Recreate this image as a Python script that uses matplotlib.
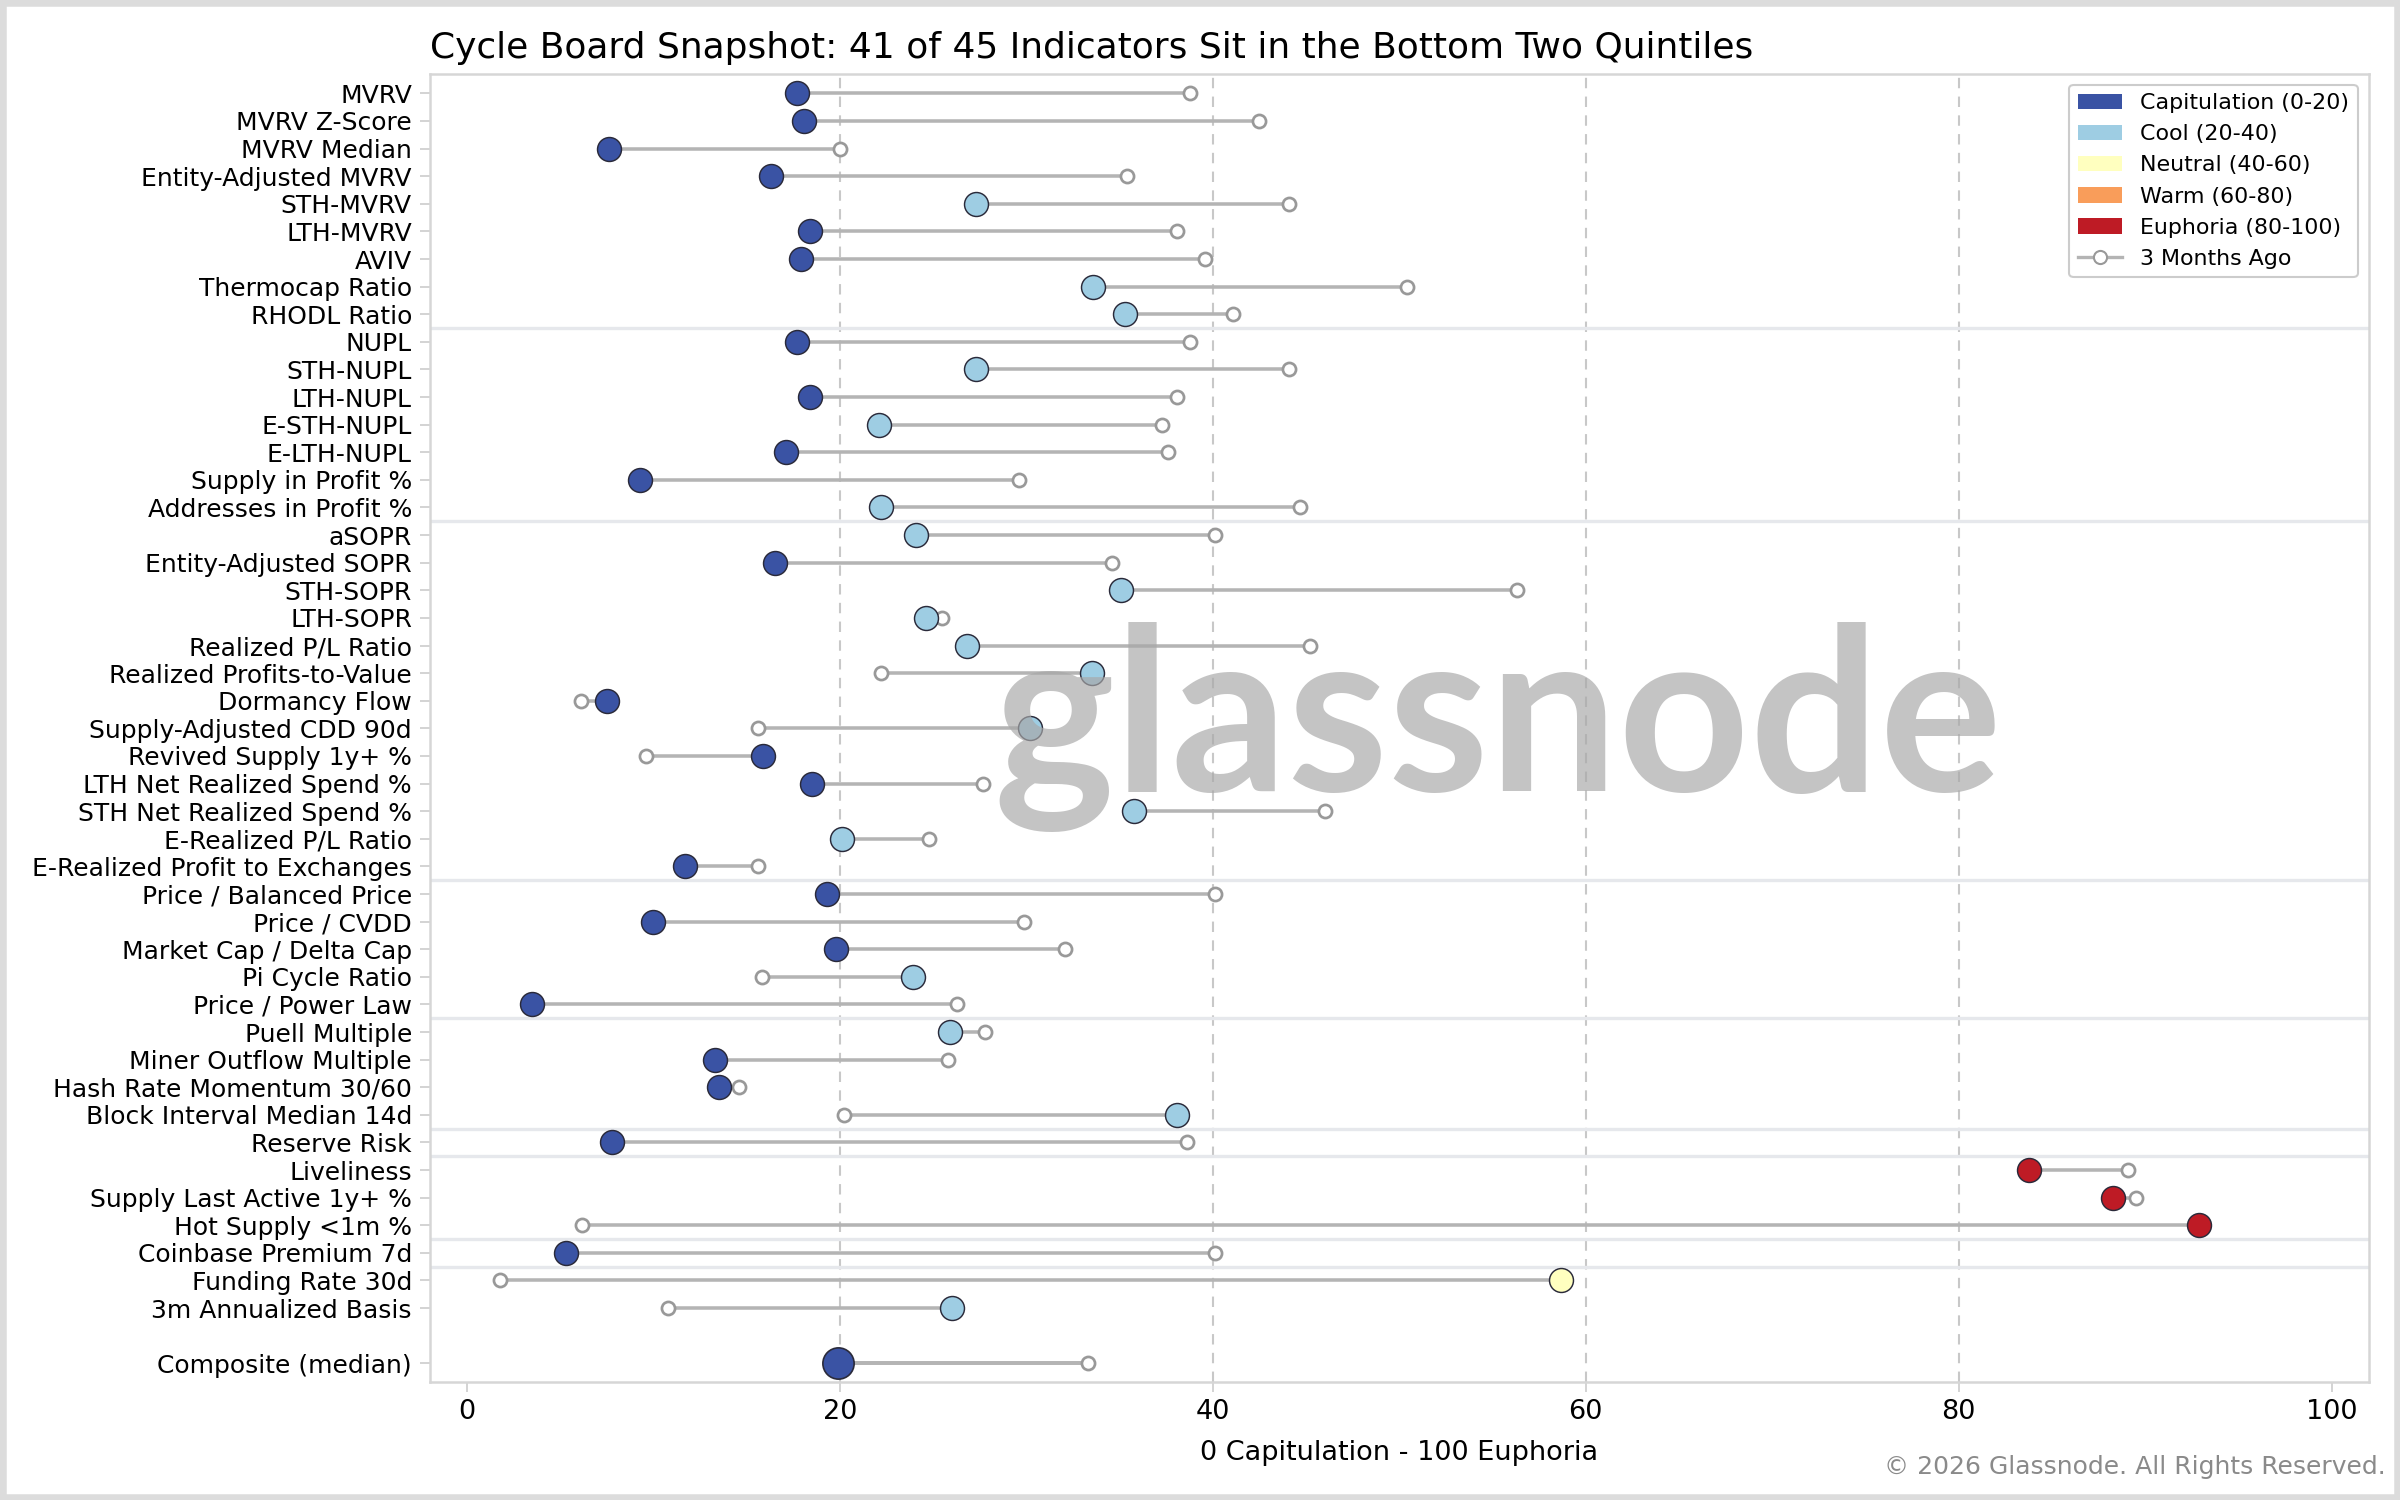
import matplotlib
matplotlib.use("Agg")
import matplotlib.pyplot as plt
from matplotlib.patches import Patch, Rectangle
from matplotlib.lines import Line2D

indicators = [
    "MVRV", "MVRV Z-Score", "MVRV Median", "Entity-Adjusted MVRV", "STH-MVRV",
    "LTH-MVRV", "AVIV", "Thermocap Ratio", "RHODL Ratio",
    "NUPL", "STH-NUPL", "LTH-NUPL", "E-STH-NUPL", "E-LTH-NUPL",
    "Supply in Profit %", "Addresses in Profit %",
    "aSOPR", "Entity-Adjusted SOPR", "STH-SOPR", "LTH-SOPR", "Realized P/L Ratio",
    "Realized Profits-to-Value", "Dormancy Flow", "Supply-Adjusted CDD 90d",
    "Revived Supply 1y+ %", "LTH Net Realized Spend %", "STH Net Realized Spend %",
    "E-Realized P/L Ratio", "E-Realized Profit to Exchanges",
    "Price / Balanced Price", "Price / CVDD", "Market Cap / Delta Cap",
    "Pi Cycle Ratio", "Price / Power Law",
    "Puell Multiple", "Miner Outflow Multiple", "Hash Rate Momentum 30/60",
    "Block Interval Median 14d",
    "Reserve Risk",
    "Liveliness", "Supply Last Active 1y+ %", "Hot Supply <1m %",
    "Coinbase Premium 7d",
    "Funding Rate 30d", "3m Annualized Basis",
]
current = [
    17.7, 18.1, 7.6, 16.3, 27.3, 18.4, 17.9, 33.6, 35.3,
    17.7, 27.3, 18.4, 22.1, 17.1, 9.3, 22.2,
    24.1, 16.5, 35.1, 24.6, 26.8, 33.5, 7.5, 30.2, 15.9, 18.5, 35.8, 20.1, 11.7,
    19.3, 10.0, 19.8, 23.9, 3.5,
    25.9, 13.3, 13.5, 38.1,
    7.8,
    83.8, 88.3, 92.9,
    5.3,
    58.7, 26.0,
]
three_months_ago = [
    38.8, 42.5, 20.0, 35.4, 44.1, 38.1, 39.6, 50.4, 41.1,
    38.8, 44.1, 38.1, 37.3, 37.6, 29.6, 44.7,
    40.1, 34.6, 56.3, 25.5, 45.2, 22.2, 6.1, 15.6, 9.6, 27.7, 46.0, 24.8, 15.6,
    40.1, 29.9, 32.1, 15.8, 26.3,
    27.8, 25.8, 14.6, 20.2,
    38.6,
    89.1, 89.5, 6.2,
    40.1,
    1.8, 10.8,
]
composite_label = "Composite (median)"
composite_now = 19.9
composite_prev = 33.3
# index after which a group separator is drawn
group_ends = [8, 15, 28, 33, 37, 38, 41, 42]

zone_labels = ["Capitulation (0-20)", "Cool (20-40)", "Neutral (40-60)",
               "Warm (60-80)", "Euphoria (80-100)"]
zone_colors = ["#3a53a4", "#9ecde3", "#ffffbf", "#f99d5a", "#be1b25"]


def zone_color(v):
    idx = min(int(v // 20), 4)
    return zone_colors[idx]


fig = plt.figure(figsize=(16, 10), dpi=150)
ax = fig.add_axes([0.179, 0.079, 0.808, 0.872])

ys = list(range(len(indicators)))
comp_y = len(indicators) + 1

for xv in [20, 40, 60, 80]:
    ax.axvline(xv, color="#c8c8c8", lw=1.0, ls=(0, (5, 4)), zorder=0)

for g in group_ends:
    ax.axhline(g + 0.5, color="#e6e8ec", lw=1.6, zorder=0.5)

for y, c, p in zip(ys, current, three_months_ago):
    ax.plot([p, c], [y, y], color="#b4b4b4", lw=1.7, zorder=1)
    ax.plot(p, y, "o", ms=6.3, mfc="white", mec="#999999", mew=1.3, zorder=2)
    ax.plot(c, y, "o", ms=11.5, mfc=zone_color(c), mec="#2a2a3a", mew=0.7, zorder=3)

ax.plot([composite_prev, composite_now], [comp_y, comp_y], color="#b4b4b4", lw=1.9, zorder=1)
ax.plot(composite_prev, comp_y, "o", ms=6.3, mfc="white", mec="#999999", mew=1.3, zorder=2)
ax.plot(composite_now, comp_y, "o", ms=15, mfc=zone_color(composite_now), mec="#2a2a3a",
        mew=0.8, zorder=3)

ax.set_yticks(ys + [comp_y])
ax.set_yticklabels(indicators + [composite_label], fontsize=12)
ax.set_ylim(comp_y + 0.66, -0.72)
ax.set_xlim(-2, 102)
ax.set_xticks([0, 20, 40, 60, 80, 100])
ax.tick_params(axis="x", labelsize=13, color="#cccccc", length=5)
ax.tick_params(axis="y", color="#cccccc", length=5)
ax.set_xlabel("0 Capitulation - 100 Euphoria", fontsize=13, labelpad=7)
for s in ax.spines.values():
    s.set_color("#d6d6d6")
    s.set_linewidth(1.2)

ax.set_title("Cycle Board Snapshot: 41 of 45 Indicators Sit in the Bottom Two Quintiles",
             loc="left", fontsize=17.3, pad=7.5)

fig.text(0.624, 0.515, "glassnode", ha="center", va="center",
         fontsize=110, color="#a8a8a8", alpha=0.68, family="Lato", weight="bold",
         zorder=5)

handles = [Patch(facecolor=c, label=l) for c, l in zip(zone_colors, zone_labels)]
handles.append(Line2D([0], [0], color="#b4b4b4", lw=1.6, marker="o", ms=6.3,
                      mfc="white", mec="#999999", label="3 Months Ago"))
leg = ax.legend(handles=handles, loc="upper right", fontsize=10.6, frameon=True,
                framealpha=1.0, edgecolor="#cccccc", borderaxespad=0.5)
leg.set_zorder(10)

fig.text(0.994, 0.014, "\u00a9 2026 Glassnode. All Rights Reserved.", ha="right",
         va="bottom", fontsize=12, color="#8a8a8a")

fig.patches.append(Rectangle((0, 0), 1, 1, transform=fig.transFigure, fill=False,
                             edgecolor="#dcdcdc", lw=6, zorder=100))

fig.savefig("out.png", dpi=150)
